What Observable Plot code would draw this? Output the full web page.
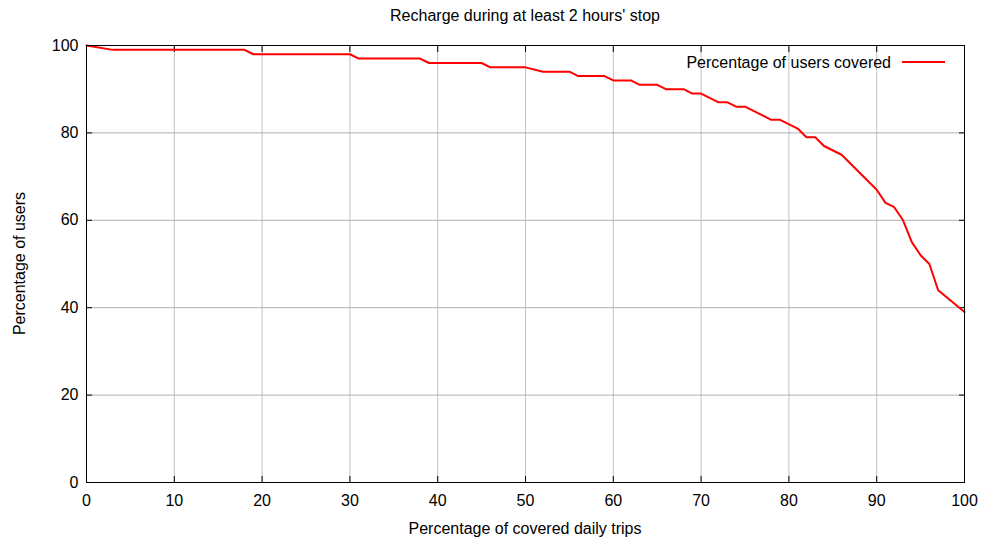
<!DOCTYPE html>
<html>
<head>
<meta charset="utf-8">
<script src="https://cdn.jsdelivr.net/npm/d3@7"></script>
<script src="https://cdn.jsdelivr.net/npm/@observablehq/plot@0.6"></script>
<style>
  html, body { margin: 0; padding: 0; background: #fff; }
  #chart svg { display: block; }
</style>
</head>
<body>
<div id="chart"></div>
<script>
const titleText = "Recharge during at least 2 hours' stop";
const xLabel = "Percentage of covered daily trips";
const yLabel = "Percentage of users";
const seriesName = "Percentage of users covered";

const trips = [0, 3, 18, 19, 30, 31, 38, 39, 45, 46, 50, 52, 55, 56, 59, 60, 62, 63, 65, 66, 68, 69, 70, 72, 73, 74, 75, 78, 79, 81, 82, 83, 84, 86, 90, 91, 92, 93, 94, 95, 96, 97, 100];
const users = [100, 99, 99, 98, 98, 97, 97, 96, 96, 95, 95, 94, 94, 93, 93, 92, 92, 91, 91, 90, 90, 89, 89, 87, 87, 86, 86, 83, 83, 81, 79, 79, 77, 75, 67, 64, 63, 60, 55, 52, 50, 44, 39];

const xTicks = [0, 10, 20, 30, 40, 50, 60, 70, 80, 90, 100];
const yTicks = [0, 20, 40, 60, 80, 100];

const data = trips.map((t, i) => ({trips: t, users: users[i]}));
const font = "'Liberation Sans', Arial, Helvetica, sans-serif";
const fs = 16;

function overlay(index, scales, values, dim) {
  const g = d3.create("svg:g").attr("font-family", font).attr("font-size", fs).attr("fill", "black");
  const left = dim.marginLeft, right = dim.width - dim.marginRight;
  const top = dim.marginTop, bottom = dim.height - dim.marginBottom;
  const cx = (left + right) / 2;
  g.append("text").attr("x", cx).attr("y", top - 30).attr("dy", "0.35em").attr("text-anchor", "middle").text(titleText);
  g.append("text").attr("x", cx).attr("y", bottom + 46).attr("dy", "0.35em").attr("text-anchor", "middle").text(xLabel);
  g.append("text").attr("transform", `translate(${left - 67},${(top + bottom) / 2}) rotate(-90)`).attr("dy", "0.35em").attr("text-anchor", "middle").text(yLabel);
  g.append("text").attr("x", right - 73).attr("y", top + 17).attr("dy", "0.35em").attr("text-anchor", "end").text(seriesName);
  g.append("line").attr("x1", right - 62).attr("x2", right - 19).attr("y1", top + 17).attr("y2", top + 17).attr("stroke", "red").attr("stroke-width", 2);
  return g.node();
}

const chart = Plot.plot({
  width: 981,
  height: 540,
  marginLeft: 86,
  marginRight: 17,
  marginTop: 45,
  marginBottom: 58,
  style: {fontFamily: font, fontSize: fs + "px", color: "black", background: "white"},
  x: {domain: [0, 100], ticks: xTicks},
  y: {domain: [0, 100], ticks: yTicks},
  marks: [
    Plot.gridX(xTicks, {stroke: "#c0c0c0", strokeOpacity: 1, strokeWidth: 1}),
    Plot.gridY(yTicks, {stroke: "#b0b0b0", strokeOpacity: 1, strokeWidth: 1}),
    Plot.axisX(xTicks, {anchor: "bottom", tickSize: -6, tickPadding: 18, label: null, fontSize: fs}),
    Plot.axisX(xTicks, {anchor: "top", tickSize: -6, tickFormat: () => "", label: null}),
    Plot.axisY(yTicks, {anchor: "left", tickSize: -6, tickPadding: 14, label: null, fontSize: fs}),
    Plot.axisY(yTicks, {anchor: "right", tickSize: -6, tickFormat: () => "", label: null}),
    Plot.line(data, {x: "trips", y: "users", stroke: "red", strokeWidth: 2}),
    Plot.frame({stroke: "black", strokeWidth: 1}),
    overlay
  ]
});
document.getElementById("chart").appendChild(chart);
</script>
</body>
</html>
